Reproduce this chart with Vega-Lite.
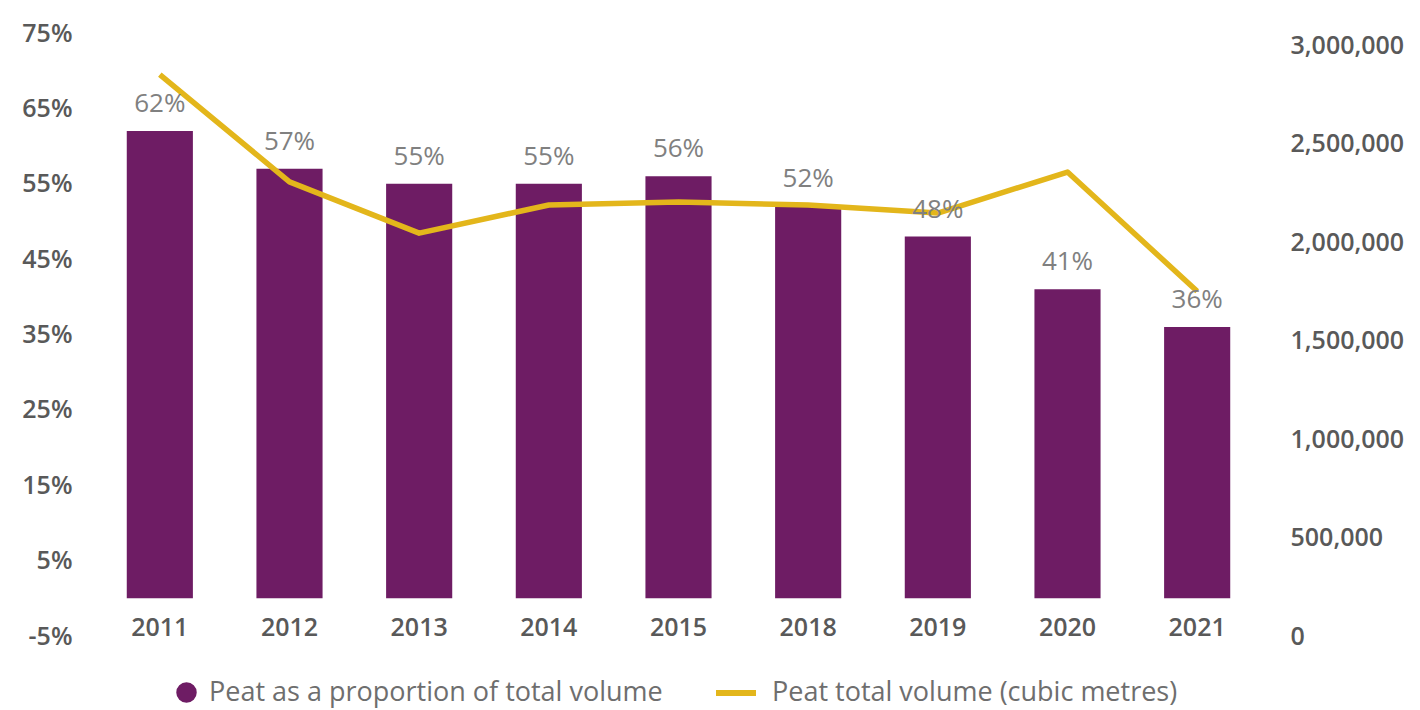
{
  "$schema": "https://vega.github.io/schema/vega-lite/v6.json",
  "autosize": "none",
  "padding": {"left": 95, "top": 33, "right": 158, "bottom": 74},
  "width": 1167,
  "height": 603,
  "background": "white",
  "config": {
    "view": {"stroke": null},
    "font": "Open Sans",
    "axis": {"grid": false, "ticks": false, "domain": false, "labelFont": "Open Sans", "labelFontSize": 25, "labelFontWeight": 600, "labelColor": "#595959", "title": null}
  },
  "data": {
    "values": [
      {"year": "2011", "pct": 0.62, "vol": 2850000},
      {"year": "2012", "pct": 0.57, "vol": 2305000},
      {"year": "2013", "pct": 0.55, "vol": 2045000},
      {"year": "2014", "pct": 0.55, "vol": 2188000},
      {"year": "2015", "pct": 0.56, "vol": 2203000},
      {"year": "2018", "pct": 0.52, "vol": 2188000},
      {"year": "2019", "pct": 0.48, "vol": 2147000},
      {"year": "2020", "pct": 0.41, "vol": 2355000},
      {"year": "2021", "pct": 0.36, "vol": 1750000}
    ]
  },
  "encoding": {
    "x": {
      "field": "year", "type": "ordinal", "sort": null,
      "scale": {"paddingInner": 0.49, "paddingOuter": 0.245},
      "axis": {"orient": "bottom", "offset": -39, "labelPadding": 18, "labelAngle": 0}
    }
  },
  "layer": [
    {
      "mark": {"type": "rule", "color": "#d9d9d9", "strokeWidth": 2},
      "encoding": {"y": {"datum": 0, "type": "quantitative", "scale": {"domain": [-0.05, 0.75]}, "axis": null}}
    },
    {
      "mark": {"type": "bar", "color": "#6e1c64"},
      "encoding": {
        "y": {"field": "pct", "type": "quantitative", "scale": {"domain": [-0.05, 0.75], "nice": false, "zero": false},
          "axis": {"orient": "left", "values": [-0.05, 0.05, 0.15, 0.25, 0.35, 0.45, 0.55, 0.65, 0.75], "labelExpr": "round(datum.value * 100) + '%'", "labelPadding": 23}},
        "y2": {"datum": 0},
        "color": {"datum": "Peat as a proportion of total volume", "type": "nominal",
          "scale": {"range": ["#6e1c64"]},
          "legend": {"orient": "none", "legendX": 78, "legendY": 646, "title": null, "symbolType": "circle", "symbolSize": 420, "labelFontSize": 27, "labelColor": "#6e6e6e", "labelFont": "Open Sans", "labelOffset": 9, "labelLimit": 700}}
      }
    },
    {
      "mark": {"type": "line", "strokeWidth": 5.5, "interpolate": "linear", "strokeJoin": "round"},
      "encoding": {
        "y": {"field": "vol", "type": "quantitative", "scale": {"domain": [0, 3061000], "nice": false},
          "axis": {"orient": "right", "values": [0, 500000, 1000000, 1500000, 2000000, 2500000, 3000000], "format": ",d", "labelPadding": 28}},
        "stroke": {"datum": "Peat total volume (cubic metres)", "type": "nominal",
          "scale": {"range": ["#e3b61b"]},
          "legend": {"orient": "none", "legendX": 618, "legendY": 637, "title": null, "symbolType": "stroke", "symbolSize": 1600, "symbolStrokeWidth": 6, "labelFontSize": 27, "labelColor": "#6e6e6e", "labelFont": "Open Sans", "labelOffset": 13, "labelLimit": 700}}
      }
    },
    {
      "mark": {"type": "text", "baseline": "alphabetic", "dy": -19, "fontSize": 26, "color": "#808080", "font": "Open Sans"},
      "encoding": {
        "y": {"field": "pct", "type": "quantitative", "scale": {"domain": [-0.05, 0.75]}, "axis": null},
        "text": {"field": "pct", "type": "quantitative", "format": ".0%"}
      }
    }
  ],
  "resolve": {"scale": {"y": "independent"}}
}
